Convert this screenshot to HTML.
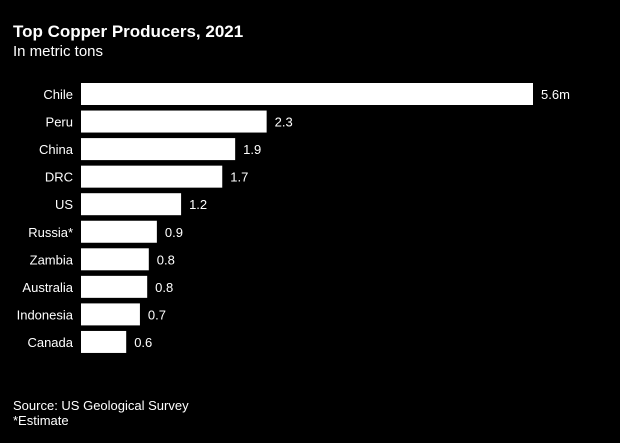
<!DOCTYPE html>
<html><head><meta charset="utf-8"><style>
body{margin:0;background:#000;width:620px;height:438px;overflow:hidden;font-family:"Liberation Sans",sans-serif;color:#fff}
</style></head><body>
<svg width="620" height="438">
<text x="13" y="37" font-size="17" font-weight="bold" fill="#fff">Top Copper Producers, 2021</text>
<text x="13" y="56" font-size="15" fill="#fff">In metric tons</text>
<g id="bars"></g>
<text x="13" y="410" font-size="13" fill="#fff">Source: US Geological Survey</text>
<text x="13" y="425" font-size="13" fill="#fff">*Estimate</text>
</svg>
<script>
const categories=["Chile","Peru","China","DRC","US","Russia*","Zambia","Australia","Indonesia","Canada"];
const values=[5.6,2.3,1.91,1.75,1.24,0.94,0.84,0.82,0.73,0.56];
const valueLabels=["5.6m","2.3","1.9","1.7","1.2","0.9","0.8","0.8","0.7","0.6"];
const x0=81,scale=452/5.6,top0=83,pitch=27.55,bh=22;
const xs=v=>x0+v*scale, ys=i=>top0+i*pitch;
const g=document.getElementById('bars');const NS="http://www.w3.org/2000/svg";
categories.forEach((c,i)=>{
 const r=document.createElementNS(NS,'rect');
 r.setAttribute('x',x0);r.setAttribute('y',ys(i));r.setAttribute('width',xs(values[i])-x0);r.setAttribute('height',bh);r.setAttribute('fill','#fff');
 
 
 g.appendChild(r);
 const t=document.createElementNS(NS,'text');
 t.setAttribute('x',73);t.setAttribute('y',ys(i)+bh/2+5);t.setAttribute('text-anchor','end');t.setAttribute('font-size','13');t.setAttribute('fill','#fff');t.textContent=c;
 
 
 g.appendChild(t);
 const v=document.createElementNS(NS,'text');
 v.setAttribute('x',xs(values[i])+8);v.setAttribute('y',ys(i)+bh/2+5);v.setAttribute('font-size','13');v.setAttribute('fill','#fff');v.textContent=valueLabels[i];
 
 
 g.appendChild(v);
});
</script>
</body></html>
